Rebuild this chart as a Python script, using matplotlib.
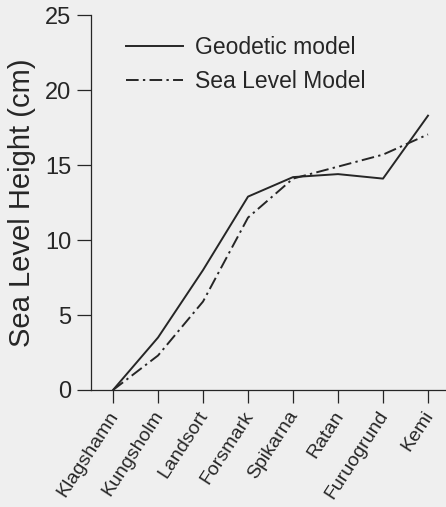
import matplotlib
matplotlib.use("Agg")
import matplotlib.pyplot as plt

stations = ["Klagshamn", "Kungsholm", "Landsort", "Forsmark", "Spikarna",
            "Ratan", "Furuogrund", "Kemi"]
geodetic = [0.0, 3.5, 8.0, 12.9, 14.2, 14.4, 14.1, 18.3]
sea_level = [0.0, 2.3, 5.9, 11.5, 14.1, 14.9, 15.7, 17.05]
yticks = [0, 5, 10, 15, 20, 25]

plt.rcParams['font.family'] = ['Liberation Sans', 'DejaVu Sans']

bg = '#efefef'
ink = '#262626'
fig = plt.figure(figsize=(4.46, 5.07), dpi=100, facecolor=bg)
ax = fig.add_axes([0.204, 0.2308, 0.796, 0.7392], facecolor=bg)

x = list(range(len(stations)))
ax.plot(x, geodetic, color=ink, lw=1.4, label="Geodetic model")
ax.plot(x, sea_level, color=ink, lw=1.4, linestyle=(0, (6.5, 2.2, 1.2, 2.2)),
        label="Sea Level Model")

ax.set_xlim(-0.49, 7.4)
ax.set_ylim(0, 25)
ax.set_yticks(yticks)
ax.set_yticklabels([str(v) for v in yticks])
ax.set_xticks(x)
ax.set_xticklabels(stations, rotation=57, ha='right', va='center_baseline',
                   rotation_mode='anchor', fontsize=14, color=ink)

for s in ['top', 'right']:
    ax.spines[s].set_visible(False)
for s in ['left', 'bottom']:
    ax.spines[s].set_color(ink)
    ax.spines[s].set_linewidth(0.9)

ax.tick_params(axis='y', direction='out', length=10, width=0.9, colors=ink,
               labelsize=17, pad=4)
ax.tick_params(axis='x', direction='out', length=9.5, width=0.9, colors=ink,
               pad=6)

ax.set_ylabel("Sea Level Height (cm)", fontsize=21, color=ink, labelpad=7)

leg = ax.legend(loc='upper left', bbox_to_anchor=(0.04, 1.0), frameon=False,
                fontsize=16.5, handlelength=2.5, handletextpad=0.5,
                labelspacing=0.5, labelcolor=ink)

fig.savefig("out.png", dpi=100, facecolor=bg)
